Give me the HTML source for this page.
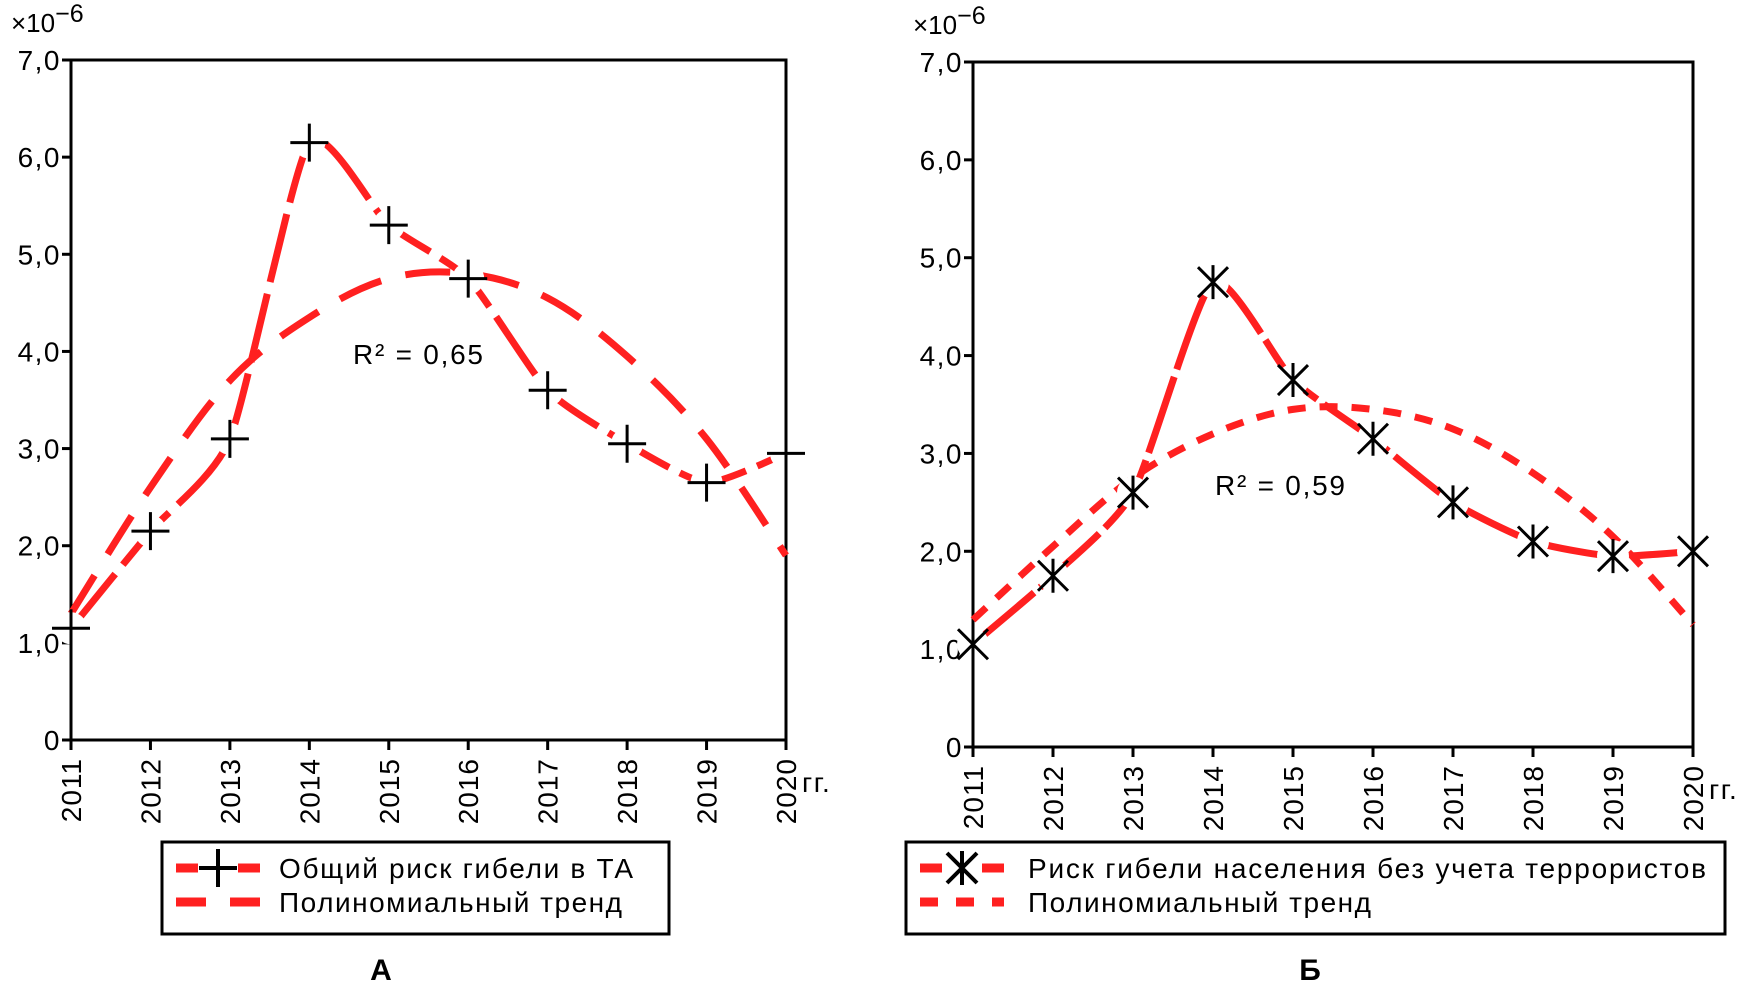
<!DOCTYPE html>
<html><head><meta charset="utf-8">
<style>
html,body{margin:0;padding:0;background:#fff;}
svg{display:block;font-family:"Liberation Sans","DejaVu Sans",sans-serif;}
</style></head>
<body>
<svg id="chart" width="1748" height="985" viewBox="0 0 1748 985" xmlns="http://www.w3.org/2000/svg"></svg>
<script>
const years = ['2011','2012','2013','2014','2015','2016','2017','2018','2019','2020'];
const yTicks = [0,1,2,3,4,5,6,7];
const yTickLabels = ['0','1,0','2,0','3,0','4,0','5,0','6,0','7,0'];
const riskA = [1.15,2.15,3.1,6.15,5.3,4.75,3.6,3.05,2.65,2.95];
const trendA = [1.3,2.6,3.7,4.35,4.75,4.8,4.55,3.95,3.1,1.9];
const riskB = [1.05,1.75,2.6,4.75,3.75,3.15,2.5,2.1,1.95,2.0];
const trendB = [1.3,2.05,2.75,3.2,3.45,3.45,3.25,2.8,2.15,1.25];
const r2A = 'R² = 0,65';
const r2B = 'R² = 0,59';

const NS='http://www.w3.org/2000/svg';
const svg=document.getElementById('chart');
function mk(tag,attrs,parent){const e=document.createElementNS(NS,tag);for(const k in attrs)e.setAttribute(k,attrs[k]);(parent||svg).appendChild(e);return e;}

function smooth(pts,t){
  t=t||6;
  let d='M'+pts[0][0]+','+pts[0][1];
  for(let i=0;i<pts.length-1;i++){
    const p0=pts[i-1]||pts[i],p1=pts[i],p2=pts[i+1],p3=pts[i+2]||p2;
    const c1=[p1[0]+(p2[0]-p0[0])/t,p1[1]+(p2[1]-p0[1])/t];
    const c2=[p2[0]-(p3[0]-p1[0])/t,p2[1]-(p3[1]-p1[1])/t];
    d+=' C'+c1[0]+','+c1[1]+' '+c2[0]+','+c2[1]+' '+p2[0]+','+p2[1];
  }
  return d;
}

function panel(cfg){
  const g=mk('g',{});
  
  
  const xs=i=>cfg.x0+(cfg.x1-cfg.x0)*i/(years.length-1);
  const ys=v=>cfg.y0-(cfg.y0-cfg.y1)*v/7;
  const fr=mk('rect',{x:cfg.x0,y:cfg.y1,width:cfg.x1-cfg.x0,height:cfg.y0-cfg.y1,fill:'none',stroke:'#000','stroke-width':3},g);
  
  
  yTicks.forEach((t,i)=>{
    const y=ys(t);
    mk('line',{x1:cfg.x0-9,x2:cfg.x0,y1:y,y2:y,stroke:'#000','stroke-width':3},g);
    const tx=mk('text',{x:cfg.x0-10,y:y+10,'text-anchor':'end','font-size':28,'letter-spacing':1.5,fill:'#000'},g);
    tx.textContent=yTickLabels[i];
    
    
  });
  const mult=mk('text',{x:cfg.x0-60,y:cfg.y1-28,'font-size':26,fill:'#000'},g);
  mult.innerHTML='×10<tspan dy="-10" font-size="25">−6</tspan>';
  
  
  years.forEach((yr,i)=>{
    const x=xs(i);
    mk('line',{x1:x,x2:x,y1:cfg.y0,y2:cfg.y0+10,stroke:'#000','stroke-width':3},g);
    const tx=mk('text',{x:0,y:0,'text-anchor':'end','font-size':28,'letter-spacing':1,fill:'#000',transform:'translate('+(x+10)+','+(cfg.y0+18)+') rotate(-90)'},g);
    tx.textContent=yr;
    
    
  });
  const gg=mk('text',{x:cfg.x1+16,y:cfg.y0+52,'font-size':28,'letter-spacing':1.5,fill:'#000'},g);
  gg.textContent='гг.';
  
  
  const tp=mk('path',{d:smooth(cfg.trend.map((v,i)=>[xs(i),ys(v)])),fill:'none',stroke:'#ff2020','stroke-width':7,'stroke-dasharray':cfg.trendDash},g);
  
  
  const dp=mk('path',{d:smooth(cfg.data.map((v,i)=>[xs(i),ys(v)]),10),fill:'none',stroke:'#ff2020','stroke-width':7,'stroke-dasharray':cfg.dataDash},g);
  
  
  cfg.data.forEach((v,i)=>{
    const x=xs(i),y=ys(v);
    mk('circle',{cx:x,cy:y,r:16,fill:'#fff'},g);
    const m=mk('path',{d:cfg.marker(x,y),stroke:'#000','stroke-width':3,fill:'none'},g);
    
    
  });
  const r=mk('text',{x:cfg.r2x,y:cfg.r2y,'font-size':28,fill:'#000',textLength:130,lengthAdjust:'spacing'},g);
  r.textContent=cfg.r2;
  
  
  const lg=mk('g',{},g);
  
  
  mk('rect',{x:cfg.lx,y:842,width:cfg.lw,height:92,fill:'#fff',stroke:'#000','stroke-width':3},lg);
  const sx=cfg.lx+14;
  mk('line',{x1:sx,x2:sx+22,y1:868,y2:868,stroke:'#ff2020','stroke-width':9},lg);
  mk('line',{x1:sx+62,x2:sx+84,y1:868,y2:868,stroke:'#ff2020','stroke-width':9},lg);
  mk('path',{d:cfg.marker(sx+42,868),stroke:'#000','stroke-width':4,fill:'none'},lg);
  mk('line',{x1:sx,x2:sx+84,y1:902,y2:902,stroke:'#ff2020','stroke-width':9,'stroke-dasharray':cfg.legDash},lg);
  const t1=mk('text',{x:cfg.ltx,y:878,'font-size':28,fill:'#000',textLength:cfg.l1len,lengthAdjust:'spacing'},lg);
  t1.textContent=cfg.l1;
  
  
  const t2=mk('text',{x:cfg.ltx,y:912,'font-size':28,fill:'#000',textLength:343,lengthAdjust:'spacing'},lg);
  t2.textContent='Полиномиальный тренд';
  
  
  const cap=mk('text',{x:cfg.capx,y:980,'font-size':30,'font-weight':'bold','text-anchor':'middle',fill:'#000'},g);
  cap.textContent=cfg.cap;
  
  
}
const plus=(x,y)=>`M${x-19},${y}H${x+19}M${x},${y-19}V${y+19}`;
const star=(x,y)=>`M${x},${y-17}V${y+17}M${x-15},${y-15}L${x+15},${y+15}M${x+15},${y-15}L${x-15},${y+15}`;
panel({name:'panel-a',x0:71,x1:786,y0:740,y1:60,data:riskA,trend:trendA,marker:plus,
  dataDash:'70 12',trendDash:'45 25',legDash:'30 24',r2:r2A,r2x:353,r2y:364,
  lx:162,lw:507,ltx:279,l1:'Общий риск гибели в ТА',l1len:354,capx:381,cap:'А'});
panel({name:'panel-b',x0:973,x1:1693,y0:747,y1:62,data:riskB,trend:trendB,marker:star,
  dataDash:'80 8',trendDash:'18 14',legDash:'18 18',r2:r2B,r2x:1215,r2y:495,
  lx:906,lw:819,ltx:1028,l1:'Риск гибели населения без учета террористов',l1len:678,capx:1310,cap:'Б'});
</script>
</body></html>
